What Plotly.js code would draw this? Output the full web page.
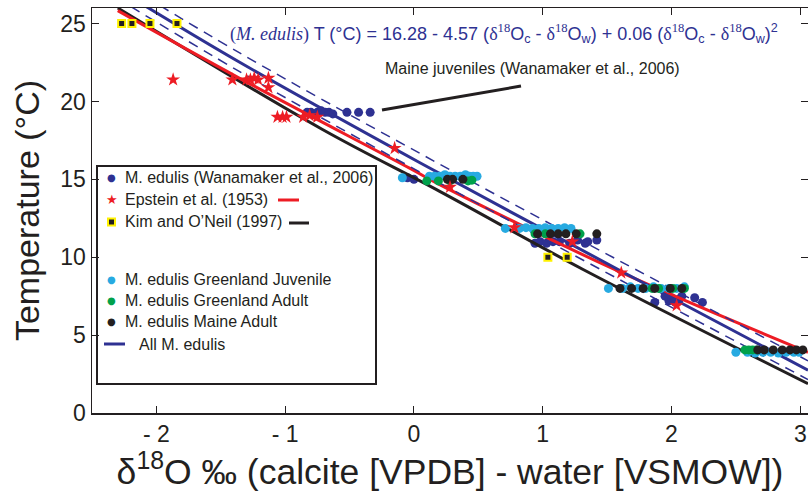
<!DOCTYPE html>
<html>
<head>
<meta charset="utf-8">
<script src="https://cdn.plot.ly/plotly-3.0.1.min.js"></script>
<style>html,body{margin:0;padding:0;background:#fff;}#chart{width:808px;height:503px;}</style>
</head>
<body>
<div id="chart"></div>
<script>
// ---- Data ----
const xTickVals = [-2, -1, 0, 1, 2, 3];
const xTickText = ['- 2', '- 1', '0', '1', '2', '3'];
const yTickVals = [0, 5, 10, 15, 20, 25];

// M. edulis (Wanamaker et al., 2006)
const wanX = [-0.83, -0.80, -0.78, -0.75, -0.72, -0.69, -0.66, -0.63, -0.52, -0.43, -0.34,
              -0.05, 0.00,
              0.94, 0.98, 1.03, 1.08, 1.13, 1.21, 1.27, 1.33, 1.35, 1.42,
              1.87, 1.95, 1.98, 2.00, 2.03, 2.06, 2.08, 2.18, 2.24];
const wanT = [19.3, 19.3, 19.2, 19.3, 19.4, 19.3, 19.3, 19.2, 19.3, 19.3, 19.3,
              15.1, 15.0,
              10.9, 11.0, 10.9, 11.0, 11.0, 10.9, 11.1, 10.9, 11.0, 11.1,
              7.1, 7.5, 7.2, 7.4, 7.1, 7.3, 7.5, 7.4, 7.1];

// Epstein et al. (1953)
const epsX = [-1.87, -1.41, -1.30, -1.27, -1.24, -1.21, -1.13, -1.13, -1.06, -1.02, -0.99,
              -0.86, -0.81, -0.75, -0.15, 0.28, 0.78, 1.23, 1.61, 2.04];
const epsT = [21.4, 21.4, 21.4, 21.4, 21.5, 21.4, 21.5, 20.9, 19.0, 19.0, 19.0,
              19.0, 19.1, 19.0, 17.0, 14.5, 11.9, 11.0, 9.0, 6.9];

// Kim and O'Neil (1997)
const kimX = [-2.27, -2.19, -2.05, -1.84, 1.04, 1.19];
const kimT = [25, 25, 25, 25, 10, 10];

// M. edulis Greenland Juvenile
const gjX = [-0.09, 0.12, 0.16, 0.20, 0.24, 0.28, 0.32, 0.36, 0.40, 0.43, 0.46, 0.49,
             0.71, 0.82, 0.87, 0.92, 0.97, 1.02, 1.07, 1.12, 1.17, 1.22,
             1.51, 1.62, 1.68, 1.74, 1.80, 1.86, 1.92, 1.98, 2.04, 2.10,
             2.50, 2.59, 2.65, 2.71, 2.77, 2.83, 2.89, 2.95, 2.99];
const gjT = [15.1, 15.2, 15.2, 15.2, 15.3, 15.2, 15.2, 15.2, 15.3, 15.2, 15.2, 15.2,
             11.85, 11.85, 11.9, 11.85, 11.85, 11.9, 11.85, 11.85, 11.9, 11.85,
             8.0, 8.0, 8.1, 8.0, 8.0, 8.1, 8.0, 8.0, 8.0, 8.1,
             3.9, 3.9, 3.85, 3.9, 3.9, 3.85, 3.9, 3.9, 3.9];

// M. edulis Greenland Adult
const gaX = [0.10, 0.19, 0.28, 0.42, 0.45,
             0.94, 1.02, 1.29,
             1.85, 1.90, 2.01, 2.10,
             2.57, 2.60, 2.63, 2.66];
const gaT = [14.9, 14.9, 14.9, 14.9, 14.95,
             11.5, 11.5, 11.5,
             8.0, 8.0, 8.0, 8.0,
             4.05, 4.05, 4.05, 4.05];

// M. edulis Maine Adult
const maX = [0.26, 0.30, 0.38,
             0.96, 1.06, 1.12, 1.18, 1.26, 1.42,
             1.60, 1.69, 1.78, 1.87, 1.99, 2.08,
             2.67, 2.72, 2.79, 2.86, 2.92, 2.97, 3.02];
const maT = [15.0, 15.0, 15.0,
             11.5, 11.5, 11.5, 11.5, 11.5, 11.5,
             8.0, 8.0, 8.0, 8.0, 8.0, 8.0,
             4.05, 4.05, 4.05, 4.05, 4.05, 4.05, 4.05];

// Curves
const kimLineX = [-2.30, -0.71, 0.20, 1.31, 3.06];
const kimLineT = [26.0, 18.2, 14.23, 9.23, 1.88];
const epsLineX = [-2.30, -1.35, -0.03, 0.20, 1.57, 3.06];
const epsLineT = [25.83, 21.47, 15.7, 14.66, 9.17, 3.9];
const allLineX = [-2.20, -1.35, 0.05, 1.60, 3.06];
const allLineT = [26.7, 22.5, 16.05, 9.15, 2.75];
const allUpperT = [27.3, 23.1, 16.65, 9.75, 3.35];
const allLowerT = [26.1, 21.9, 15.45, 8.55, 2.15];

// ---- Styles ----
const NAVY = '#2e3192', RED = '#ed1c24', BLK = '#231f20', CYAN = '#27aae1', GREEN = '#00a14b', YEL = '#fff200';
const FONT = 'Liberation Sans, Arial, Helvetica, sans-serif';
const SERIF = 'Liberation Serif, Times New Roman, serif';

const traces = [
  {x: wanX, y: wanT, mode: 'markers', name: 'M. edulis (Wanamaker et al., 2006)',
   marker: {color: NAVY, size: 9}},
  {x: kimLineX, y: kimLineT, mode: 'lines', name: "Kim and O'Neil (1997)", line: {color: BLK, width: 3, shape: 'spline'}},
  {x: epsLineX, y: epsLineT, mode: 'lines', name: 'Epstein et al. (1953)', line: {color: RED, width: 3, shape: 'spline'}},
  {x: allLineX, y: allUpperT, mode: 'lines', name: 'upper', line: {color: NAVY, width: 1.5, dash: '10px,7px', shape: 'spline'}},
  {x: allLineX, y: allLowerT, mode: 'lines', name: 'lower', line: {color: NAVY, width: 1.5, dash: '10px,7px', shape: 'spline'}},
  {x: allLineX, y: allLineT, mode: 'lines', name: 'All M. edulis', line: {color: NAVY, width: 3, shape: 'spline'}},
  {x: gjX, y: gjT, mode: 'markers', name: 'M. edulis Greenland Juvenile', marker: {color: CYAN, size: 9}},
  {x: gaX, y: gaT, mode: 'markers', name: 'M. edulis Greenland Adult', marker: {color: GREEN, size: 9}},
  {x: maX, y: maT, mode: 'markers', name: 'M. edulis Maine Adult', marker: {color: BLK, size: 9}},
  {x: epsX, y: epsT, mode: 'markers', name: 'Epstein et al. (1953)', marker: {color: RED, size: 10.5, symbol: 'star'}},
  {x: kimX, y: kimT, mode: 'markers', name: "Kim and O'Neil (1997)",
   marker: {color: BLK, size: 7, symbol: 'square', line: {color: YEL, width: 2}}}
];

// legend helpers in paper coordinates (plot area 92..808 x 8..413 px)
const px = v => (v - 92) / 716;
const py = v => (413 - v) / 405;

const legendRows = [
  {t: 'M. edulis (Wanamaker et al., 2006)', y: 177, glyph: '●', c: NAVY},
  {t: 'Epstein et al. (1953)', y: 199, glyph: '★', c: RED},
  {t: "Kim and O’Neil (1997)", y: 222, glyph: null},
  {t: 'M. edulis Greenland Juvenile', y: 279, glyph: '●', c: CYAN},
  {t: 'M. edulis Greenland Adult', y: 300, glyph: '●', c: GREEN},
  {t: 'M. edulis Maine Adult', y: 321, glyph: '●', c: BLK}
];

const annotations = [];
legendRows.forEach(r => {
  annotations.push({xref: 'paper', yref: 'paper', x: px(123), y: py(r.y), xanchor: 'left', yanchor: 'middle',
    text: r.t, showarrow: false, font: {family: FONT, size: 16, color: BLK}});
  if (r.glyph) annotations.push({xref: 'paper', yref: 'paper', x: px(111.5), y: py(r.y), xanchor: 'center', yanchor: 'middle',
    text: r.glyph, showarrow: false, font: {family: 'DejaVu Sans', size: r.glyph === '★' ? 13 : 10, color: r.c}});
});
annotations.push({xref: 'paper', yref: 'paper', x: px(137), y: py(344), xanchor: 'left', yanchor: 'middle',
  text: 'All M. edulis', showarrow: false, font: {family: FONT, size: 16, color: BLK}});

annotations.push({xref: 'paper', yref: 'paper', x: px(228), y: py(33), xanchor: 'left', yanchor: 'middle', showarrow: false,
  font: {family: FONT, size: 18, color: NAVY},
  text: '<span style="font-family:' + SERIF + '">(<i>M. edulis</i>)</span> T (°C) = 16.28 - 4.57 (<span style="font-family:' + SERIF + '">δ<sup>18</sup></span>O<sub>c</sub> - <span style="font-family:' + SERIF + '">δ<sup>18</sup></span>O<sub>w</sub>) + 0.06 (<span style="font-family:' + SERIF + '">δ<sup>18</sup></span>O<sub>c</sub> - <span style="font-family:' + SERIF + '">δ<sup>18</sup></span>O<sub>w</sub>)<sup>2</sup>'});

annotations.push({xref: 'paper', yref: 'paper', x: px(383), y: py(69), xanchor: 'left', yanchor: 'middle', showarrow: false,
  font: {family: FONT, size: 16, color: BLK}, text: 'Maine juveniles (Wanamaker et al., 2006)'});

const shapes = [
  {type: 'rect', xref: 'paper', yref: 'paper', x0: px(97), x1: px(376), y0: py(384), y1: py(166),
   line: {color: BLK, width: 2}, fillcolor: '#ffffff', layer: 'below'},
  {type: 'line', xref: 'paper', yref: 'paper', x0: px(278), x1: px(299), y0: py(200), y1: py(200), line: {color: RED, width: 3}},
  {type: 'line', xref: 'paper', yref: 'paper', x0: px(289), x1: px(309), y0: py(223), y1: py(223), line: {color: BLK, width: 3}},
  {type: 'line', xref: 'paper', yref: 'paper', x0: px(104), x1: px(125), y0: py(344), y1: py(344), line: {color: NAVY, width: 3}},
  {type: 'rect', xref: 'paper', yref: 'paper', x0: px(108), x1: px(115), y0: py(225.5), y1: py(218.5),
   line: {color: YEL, width: 2}, fillcolor: BLK},
  // leader line for the Maine juveniles label
  {type: 'line', xref: 'paper', yref: 'paper', x0: px(382), y0: py(110), x1: px(521), y1: py(86), line: {color: BLK, width: 3}}
];

const layout = {
  width: 808, height: 503,
  margin: {l: 92, r: 0, t: 8, b: 90},
  paper_bgcolor: '#ffffff', plot_bgcolor: '#ffffff',
  showlegend: false,
  font: {family: FONT, color: BLK},
  xaxis: {range: [-2.5, 3.06], tickvals: xTickVals, ticktext: xTickText, ticks: 'inside', ticklen: 7,
    tickcolor: BLK, showline: true, linecolor: BLK, linewidth: 1.5, mirror: 'ticks', showgrid: false, zeroline: false,
    tickfont: {family: FONT, size: 23, color: BLK},
    title: {text: 'δ<sup>18</sup>O ‰ (calcite [VPDB] - water [VSMOW])', font: {family: FONT, size: 35.5, color: BLK}, standoff: 10}},
  yaxis: {range: [0, 26], tickvals: yTickVals, ticks: 'inside', ticklen: 7,
    tickcolor: BLK, showline: true, linecolor: BLK, linewidth: 1.5, mirror: 'ticks', showgrid: false, zeroline: false,
    tickfont: {family: FONT, size: 23, color: BLK},
    title: {text: 'Temperature (°C)', font: {family: FONT, size: 34, color: BLK}, standoff: 10}},
  annotations: annotations,
  shapes: shapes
};

Plotly.newPlot('chart', traces, layout, {displayModeBar: false, staticPlot: true});
</script>
</body>
</html>
